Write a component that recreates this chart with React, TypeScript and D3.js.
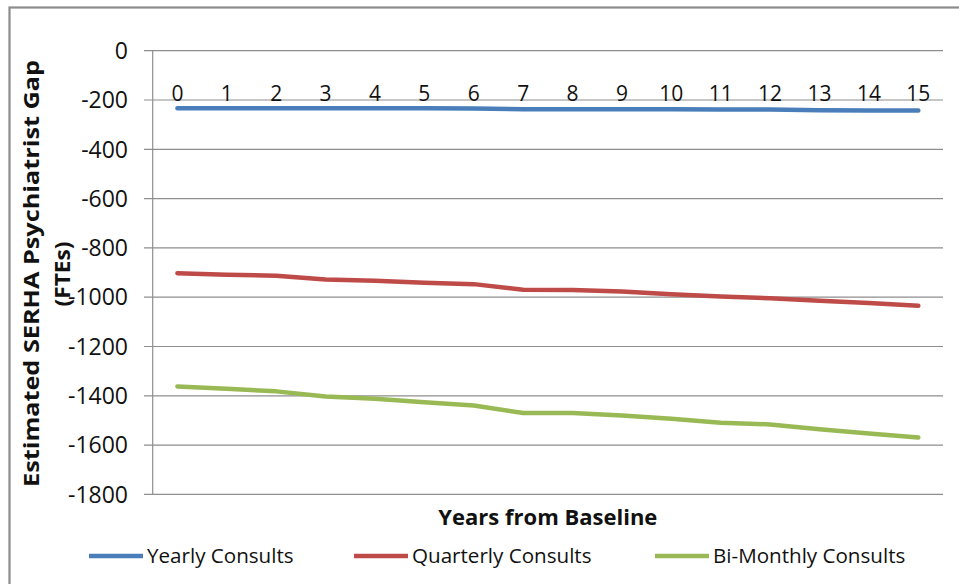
import React from "react";
import * as d3 from "d3";

const years = [0, 1, 2, 3, 4, 5, 6, 7, 8, 9, 10, 11, 12, 13, 14, 15];
const yearly = [-233, -233, -233, -233, -233, -233, -234, -238, -238, -238, -238, -239, -239, -242, -243, -243];
const quarterly = [-903, -909, -913, -928, -933, -941, -947, -970, -971, -977, -988, -997, -1004, -1014, -1024, -1035];
const biMonthly = [-1362, -1371, -1382, -1403, -1412, -1426, -1439, -1470, -1470, -1480, -1493, -1509, -1516, -1536, -1553, -1569];
const yTicks = [0, -200, -400, -600, -800, -1000, -1200, -1400, -1600, -1800];
const seriesNames = ["Yearly Consults", "Quarterly Consults", "Bi-Monthly Consults"];
const seriesColors = ["#4A7EBB", "#BE4B48", "#98B954"];
const seriesData = [yearly, quarterly, biMonthly];

const W = 959;
const H = 584;
const plotL = 152.7;
const plotR = 943;
const plotT = 50.7;
const plotB = 494.4;
const font = "'Open Sans', 'Liberation Sans', Arial, sans-serif";

export default function App() {
  const x = d3.scaleBand<number>().domain(years).range([plotL, plotR]).padding(0);
  const cx = (d: number) => (x(d) as number) + x.bandwidth() / 2;
  const y = d3.scaleLinear().domain([-1800, 0]).range([plotB, plotT]);
  const line = d3
    .line<number>()
    .x((_, i) => cx(years[i]))
    .y((v) => y(v));

  const legendSwatchX = [89, 354, 655];
  const legendY = 556;

  return (
    <svg
      width={W}
      height={H}
      style={{ position: "absolute", left: 0, top: 0, background: "#fff" }}
      fontFamily={font}
    >
      <rect x={0} y={0} width={W} height={H} fill="#fff" />
      <rect x={9.5} y={7.5} width={W + 20} height={H + 20} fill="none" stroke="#8c8c8c" strokeWidth={2.2} />

      {yTicks.map((t) => (
        <g key={t}>
          <line x1={144} x2={plotR} y1={y(t)} y2={y(t)} stroke="#8e8e8e" strokeWidth={1.2} />
          <text x={128} y={y(t)} dy="0.36em" textAnchor="end" fontSize={23} fill="#111">
            {t}
          </text>
        </g>
      ))}
      <line x1={plotL} x2={plotL} y1={plotT} y2={plotB} stroke="#8e8e8e" strokeWidth={1.2} />

      {years.map((d) => (
        <text key={d} x={cx(d)} y={101} textAnchor="middle" fontSize={21} fill="#111">
          {d}
        </text>
      ))}

      {seriesData.map((s, i) => (
        <path
          key={i}
          d={line(s) as string}
          fill="none"
          stroke={seriesColors[i]}
          strokeWidth={4.5}
          strokeLinecap="round"
          strokeLinejoin="round"
        />
      ))}

      <text
        x={(plotL + plotR) / 2}
        y={525}
        textAnchor="middle"
        fontSize={21}
        fontWeight="bold"
        fill="#111"
        textLength={219}
        lengthAdjust="spacingAndGlyphs"
      >
        Years from Baseline
      </text>
      <text
        transform={`translate(39,${273.5}) rotate(-90)`}
        textAnchor="middle"
        fontSize={21}
        fontWeight="bold"
        fill="#111"
        textLength={427}
        lengthAdjust="spacingAndGlyphs"
      >
        Estimated SERHA Psychiatrist Gap
      </text>
      <text
        transform={`translate(70,${274}) rotate(-90)`}
        textAnchor="middle"
        fontSize={21}
        fontWeight="bold"
        fill="#111"
        textLength={65}
        lengthAdjust="spacingAndGlyphs"
      >
        (FTEs)
      </text>

      {seriesNames.map((n, i) => (
        <g key={n}>
          <line
            x1={legendSwatchX[i]}
            x2={legendSwatchX[i] + 54}
            y1={legendY}
            y2={legendY}
            stroke={seriesColors[i]}
            strokeWidth={4.5}
          />
          <text x={legendSwatchX[i] + 58} y={legendY} dy="0.36em" fontSize={20.6} fill="#111">
            {n}
          </text>
        </g>
      ))}
    </svg>
  );
}
